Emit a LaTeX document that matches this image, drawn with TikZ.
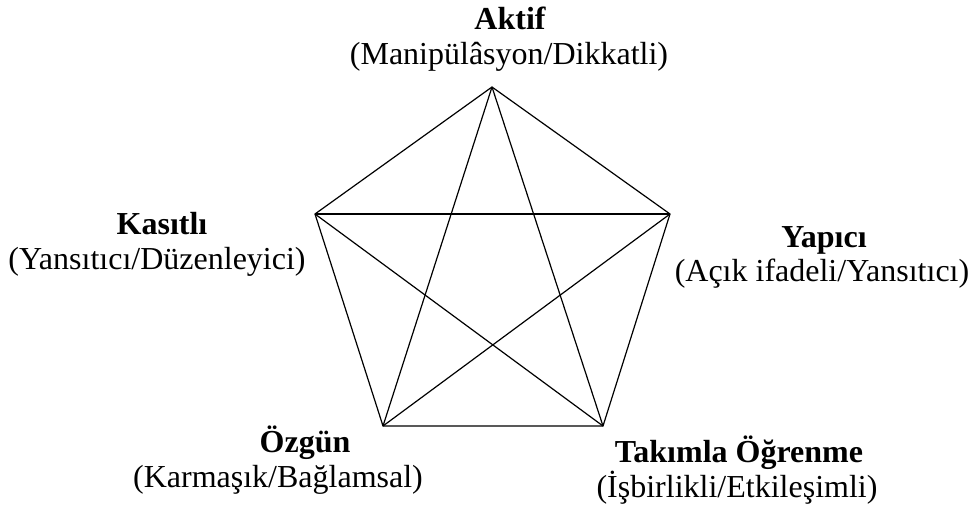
\documentclass[tikz,border=0pt]{standalone}
\usepackage{fontspec}
\setmainfont{Liberation Serif}
\begin{document}
\begin{tikzpicture}[x=1pt,y=-1pt,
  lbl/.style={anchor=base,inner sep=0pt,font=\fontsize{32}{36}\selectfont},
  ttl/.style={lbl,font=\fontsize{32}{36}\selectfont\bfseries},
  edge/.style={line width=1.2pt,black}]
\useasboundingbox (0,0) rectangle (975,510);
\coordinate (T) at (492,87);
\coordinate (L) at (315,214);
\coordinate (R) at (670,214);
\coordinate (BL) at (383,426);
\coordinate (BR) at (603,426);
% pentagon
\draw[edge] (T) -- (R) -- (BR) -- (BL) -- (L) -- cycle;
% star
\draw[edge] (T) -- (BL);
\draw[edge] (T) -- (BR);
\draw[edge] (L) -- (R);
\draw[edge] (L) -- (BR);
\draw[edge] (R) -- (BL);
% labels
\node[ttl] (t1) at (510,30) {Aktif};
\node[lbl] (t2) at (509,65) {(Manipülâsyon/Dikkatli)};
\node[ttl] (l1) at (162,235) {Kasıtlı};
\node[lbl] (l2) at (157,270) {(Yansıtıcı/Düzenleyici)};
\node[ttl] (r1) at (824,248) {Yapıcı};
\node[lbl] (r2) at (822,282) {(Açık ifadeli/Yansıtıcı)};
\node[ttl] (bl1) at (305,453) {Özgün};
\node[lbl] (bl2) at (278,488) {(Karmaşık/Bağlamsal)};
\node[ttl] (br1) at (739,463) {Takımla Öğrenme};
\node[lbl] (br2) at (737,497) {(İşbirlikli/Etkileşimli)};
\end{tikzpicture}
\end{document}
